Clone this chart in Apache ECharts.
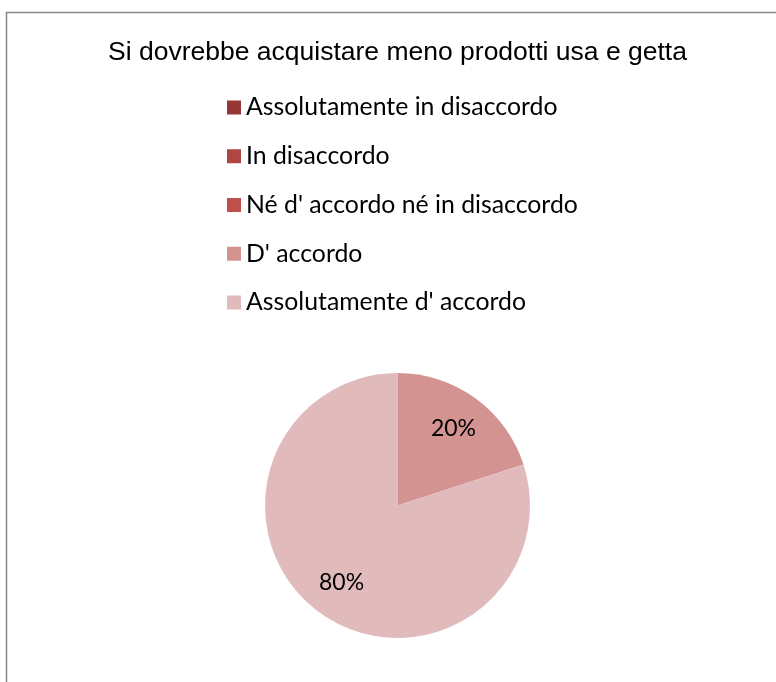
<!DOCTYPE html>
<html><head><meta charset="utf-8">
<script src="https://cdn.jsdelivr.net/npm/echarts@6/dist/echarts.min.js"></script>
<style>html,body{margin:0;padding:0;background:#fff}#c{width:776px;height:682px}</style>
</head><body><div id="c"></div>
<script>
const titleText = "Si dovrebbe acquistare meno prodotti usa e getta";
const categories = ["Assolutamente in disaccordo","In disaccordo","Né d' accordo né in disaccordo","D' accordo","Assolutamente d' accordo"];
const values = [0, 0, 0, 1, 4];
const colors = ["#953735","#B04644","#C0504D","#D39391","#E1BBBC"];

const chart = echarts.init(document.getElementById('c'));
const total = values.reduce((a,b)=>a+b,0);
const dataMain = categories.map((n,i)=>({name:n, value:values[i], itemStyle:{color:colors[i]}}));
const dataLbl = categories.map((n,i)=>({name:n, value:values[i], itemStyle:{color:'rgba(0,0,0,0)'}}));
chart.setOption({
  animation:false,
  graphic:[{type:'rect', shape:{x:6.5,y:12.5,width:900,height:900}, style:{fill:'none',stroke:'#888',lineWidth:1.5}, silent:true}],
  title:{text:titleText,left:103,top:34,textStyle:{fontFamily:'Liberation Sans, Arial',fontSize:26.5,fontWeight:'normal',color:'#000'}},
  legend:{orient:'vertical',left:222,top:90,itemWidth:14,itemHeight:14,itemGap:23.75,icon:'rect',
    textStyle:{fontFamily:'Lato',fontSize:24.8,color:'#000',lineHeight:24,padding:[0,0,0,0]},
    data:categories.map((n,i)=>({name:n,itemStyle:{color:colors[i]}}))},
  series:[
    {type:'pie',center:[397.5,505.5],radius:[0,132.5],startAngle:90,clockwise:true,data:dataMain,
     label:{show:false},labelLine:{show:false},emphasis:{disabled:true},silent:true},
    {type:'pie',center:[397.5,505.5],radius:[52,132.5],startAngle:90,clockwise:true,data:dataLbl,
     legendHoverLink:false,emphasis:{disabled:true},silent:true,
     label:{show:true,position:'inside',fontFamily:'Lato',fontSize:23,color:'#000',
       formatter:p=>p.value>0?Math.round(p.value/total*100)+'%':''},
     labelLine:{show:false}}
  ]
});
</script></body></html>
